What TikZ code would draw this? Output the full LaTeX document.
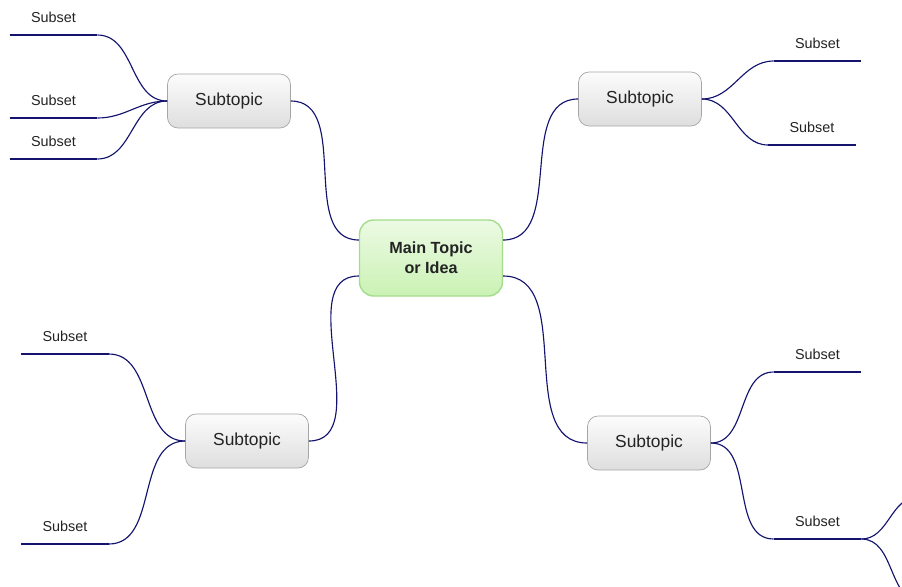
\documentclass[tikz,border=0pt]{standalone}
\usepackage{fontspec}
\setmainfont{Liberation Sans}
\usepackage{xcolor}
\usepackage{tikz}
\definecolor{linkc}{RGB}{20,20,110}
\definecolor{subdraw}{RGB}{165,165,165}
\definecolor{subtop}{RGB}{252,252,252}
\definecolor{subbot}{RGB}{222,222,222}
\definecolor{maindraw}{RGB}{165,220,140}
\definecolor{maintop}{RGB}{236,250,228}
\definecolor{mainbot}{RGB}{202,242,180}
\definecolor{ink}{RGB}{35,35,35}

\begin{document}
\begin{tikzpicture}[
  x=0.02cm, y=-0.02cm,
  idea/.style={
    draw=maindraw, thick, rounded corners=8pt, top color=maintop, bottom color=mainbot,
    minimum width=2.86cm, minimum height=1.52cm, align=center,
    font=\fontsize{9.2}{11.5}\selectfont\bfseries, text=ink
  },
  topic/.style={
    draw=subdraw, rounded corners=6pt, top color=subtop, bottom color=subbot,
    minimum width=2.46cm, minimum height=1.08cm,
    font=\fontsize{9.9}{12}\selectfont, text=ink
  },
  subset/.style={
    anchor=south, inner sep=0pt, minimum width=1.74cm, text depth=6.8pt,
    font=\fontsize{8.2}{10}\selectfont, text=ink
  },
  link/.style={linkc, line width=0.65pt},
  under/.style={linkc, line width=1.1pt}
]
  \useasboundingbox (0,0) rectangle (902,586);
  \clip (0,0) rectangle (902,586);

  \node[idea] (main) at (431,258) {Main Topic\\or Idea};

  \node[topic] (tl) at (229,101) {Subtopic};
  \node[topic] (tr) at (640,99) {Subtopic};
  \node[topic] (bl) at (247,441) {Subtopic};
  \node[topic] (br) at (649,443) {Subtopic};

  % subsets
  \node[subset] (s1) at (53.5,35) {Subset};
  \node[subset] (s2) at (53.5,118) {Subset};
  \node[subset] (s3) at (53.5,159) {Subset};
  \node[subset] (s4) at (817.5,61) {Subset};
  \node[subset] (s5) at (812,145) {Subset};
  \node[subset] (s6) at (65,354) {Subset};
  \node[subset] (s7) at (65,544) {Subset};
  \node[subset] (s8) at (817.5,372) {Subset};
  \node[subset] (s9) at (817.5,539) {Subset};

  \coordinate (up) at (918,497);
  \coordinate (down) at (922,602);

  \foreach \s in {s1,s2,s3,s4,s5,s6,s7,s8,s9}
    \draw[under] (\s.south west) -- (\s.south east);

  % main to subtopics
  \draw[link] (tl.east) to[out=0, in=180] (main.166);
  \draw[link] (bl.east) to[out=0, in=180] (main.194);
  \draw[link] (main.14) to[out=0, in=180] (tr.west);
  \draw[link] (main.346) to[out=0, in=180] (br.west);

  % subtopics to subsets
  \foreach \s in {s1,s2,s3}
    \draw[link] (\s.south east) to[out=0, in=180] (tl.west);
  \foreach \s in {s6,s7}
    \draw[link] (\s.south east) to[out=0, in=180] (bl.west);
  \foreach \s in {s4,s5}
    \draw[link] (tr.east) to[out=0, in=180] (\s.south west);
  \foreach \s in {s8,s9}
    \draw[link] (br.east) to[out=0, in=180] (\s.south west);

  \draw[link] (s9.south east) to[out=0, in=180] (up);
  \draw[link] (s9.south east) to[out=0, in=180] (down);
\end{tikzpicture}
\end{document}
